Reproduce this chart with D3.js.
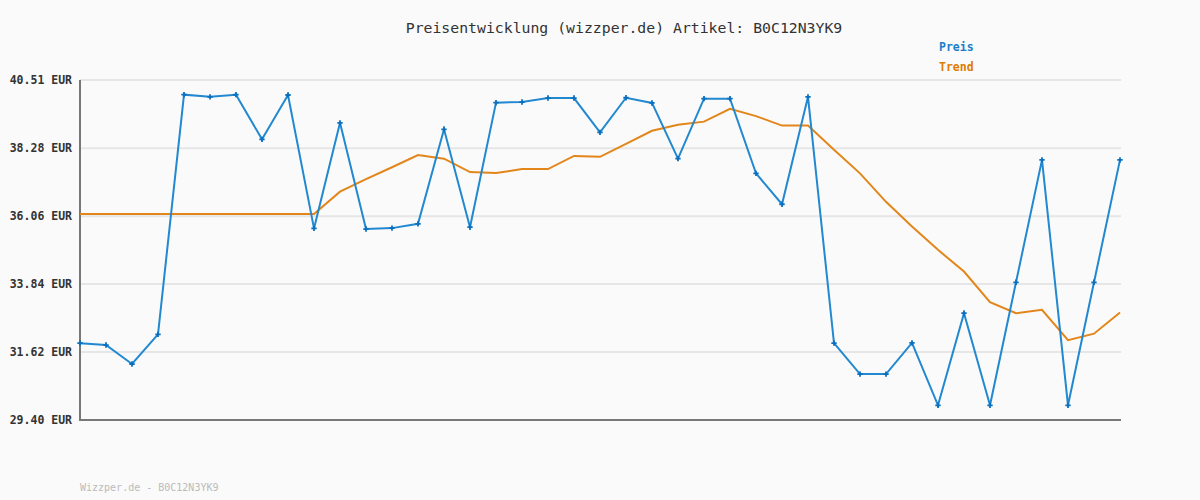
<!DOCTYPE html>
<html>
<head>
<meta charset="utf-8">
<script src="https://cdn.jsdelivr.net/npm/d3@7"></script>
<style>
  body { margin: 0; background: #fafafa; }
  svg { display: block; }
  .grid line { stroke: #e6e6e6; stroke-width: 2px; }
  .axis-line { stroke: #777; stroke-width: 2px; }
  .ylab { font-family: "DejaVu Sans Mono", monospace; font-size: 11.5px; font-weight: bold; fill: #333; }
  .title { font-family: "DejaVu Sans Mono", monospace; font-size: 14.8px; fill: #333; }
  .legend { font-family: "DejaVu Sans Mono", monospace; font-size: 11.5px; font-weight: bold; }
  .footer { font-family: "DejaVu Sans Mono", monospace; font-size: 10px; fill: #bbb; }
</style>
</head>
<body>
<div id="chart"></div>
<script>
  // Preis (blau) und Trend (orange), 41 Messpunkte
  const preis = [31.91, 31.85, 31.23, 32.20, 40.03, 39.96, 40.03, 38.57, 40.02, 35.66,
    39.11, 35.64, 35.67, 35.81, 38.90, 35.70, 39.77, 39.79, 39.92, 39.92,
    38.80, 39.93, 39.76, 37.94, 39.90, 39.90, 37.46, 36.45, 39.96, 31.91,
    30.90, 30.90, 31.92, 29.88, 32.89, 29.88, 33.90, 37.90, 29.88, 33.90, 37.90];
  const trend = [36.13, 36.13, 36.13, 36.13, 36.13, 36.13, 36.13, 36.13, 36.13, 36.13,
    36.86, 37.27, 37.66, 38.06, 37.94, 37.50, 37.47, 37.60, 37.60, 38.03,
    38.00, 38.42, 38.85, 39.05, 39.15, 39.57, 39.33, 39.02, 39.02, 38.23,
    37.46, 36.53, 35.72, 34.96, 34.25, 33.25, 32.89, 33.00, 32.01, 32.22, 32.91];
  const yTicks = [29.40, 31.62, 33.84, 36.06, 38.28, 40.51];
  const titel = "Preisentwicklung (wizzper.de) Artikel: B0C12N3YK9";
  const fusszeile = "Wizzper.de - B0C12N3YK9";

  let width = 1200, height = 500;
  let margin = { top: 80, left: 80, right: 80, bottom: 80 };

  let scaleX = d3.scaleLinear()
    .domain([0, preis.length - 1])
    .range([margin.left, width - margin.right]);

  let scaleY = d3.scaleLinear()
    .domain([29.40, 40.51])
    .range([420, 80]);

  let svg = d3.select("#chart").append("svg")
    .attr("width", width)
    .attr("height", height);

  svg.append("rect").attr("width", width).attr("height", height).attr("fill", "#fafafa");

  // Gitterlinien
  svg.append("g").attr("class", "grid")
    .selectAll("line").data(yTicks.slice(1)).join("line")
    .attr("x1", margin.left).attr("x2", width - margin.right + 1)
    .attr("y1", d => scaleY(d)).attr("y2", d => scaleY(d));

  // y-Achse Beschriftung
  svg.append("g")
    .selectAll("text").data(yTicks).join("text")
    .attr("class", "ylab")
    .attr("x", 72)
    .attr("y", d => scaleY(d) + 4)
    .attr("text-anchor", "end")
    .text(d => d.toFixed(2) + " EUR");

  svg.append("line").attr("class", "axis-line")
    .attr("x1", margin.left).attr("x2", margin.left)
    .attr("y1", 80).attr("y2", 421);
  svg.append("line").attr("class", "axis-line")
    .attr("x1", margin.left - 1).attr("x2", width - margin.right + 1)
    .attr("y1", 420).attr("y2", 420);

  let line = d3.line()
    .x((d, i) => scaleX(i))
    .y(d => scaleY(d));

  svg.append("path")
    .datum(trend)
    .attr("fill", "none")
    .attr("stroke", "#e3861a")
    .attr("stroke-width", 2)
    .attr("d", line);

  svg.append("path")
    .datum(preis)
    .attr("fill", "none")
    .attr("stroke", "#2288d0")
    .attr("stroke-width", 2)
    .attr("d", line);

  let cross = d3.symbol().type(d3.symbolCross).size(16);
  svg.append("g")
    .selectAll("path").data(preis).join("path")
    .attr("d", cross)
    .attr("fill", "#0a6fbf")
    .attr("transform", (d, i) => "translate(" + scaleX(i) + "," + scaleY(d) + ")");

  svg.append("text").attr("class", "title")
    .attr("x", 624).attr("y", 33)
    .attr("text-anchor", "middle")
    .text(titel);

  svg.append("text").attr("class", "legend")
    .attr("x", 939).attr("y", 51).attr("fill", "#1a7fc9").text("Preis");
  svg.append("text").attr("class", "legend")
    .attr("x", 939).attr("y", 71).attr("fill", "#e07b00").text("Trend");

  svg.append("text").attr("class", "footer")
    .attr("x", 80).attr("y", 491)
    .text(fusszeile);
</script>
</body>
</html>
